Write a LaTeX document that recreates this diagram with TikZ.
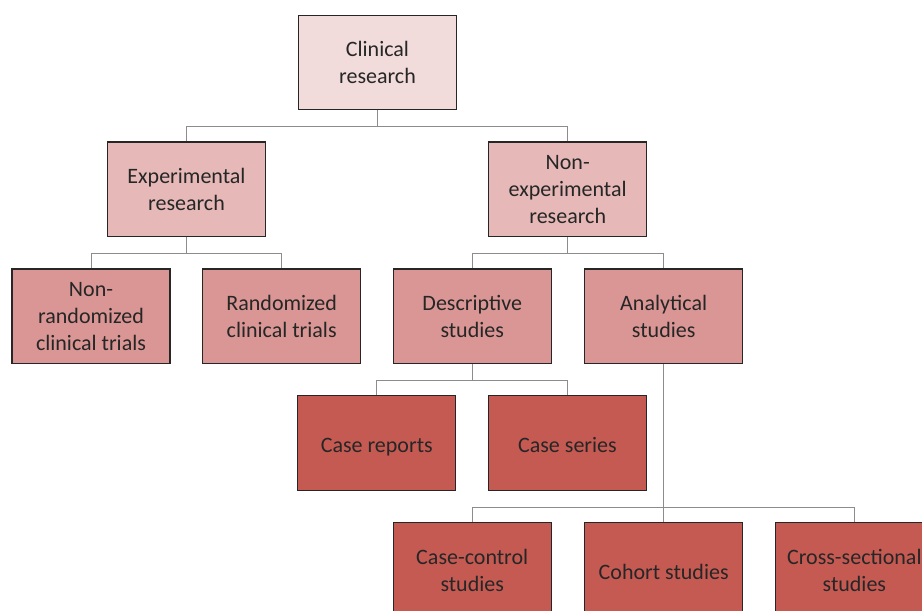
\documentclass[tikz,border=0pt]{standalone}
\usepackage{fontspec}
\setmainfont{Carlito}
\definecolor{lvlone}{HTML}{F2DCDB}
\definecolor{lvltwo}{HTML}{E6B9B8}
\definecolor{lvlthree}{HTML}{D99694}
\definecolor{lvlfour}{HTML}{C55A53}
\definecolor{boxtext}{HTML}{262626}
\usetikzlibrary{positioning}
\tikzset{
	box/.style = {draw = black!85, line width = 0.9pt, minimum width = 118.5pt, minimum height = 71pt, align = center, text = boxtext, font = \fontsize{16.5}{20.25}\selectfont, execute at begin node = \strut, text depth = 0pt},
	link/.style = {draw = black!45, line width = 0.6pt}
}

\begin{document}
\begin{tikzpicture}
		\useasboundingbox (-283.125pt,46.875pt) rectangle (408.375pt,-411.375pt);
		\clip (-283.125pt,46.875pt) rectangle (408.375pt,-411.375pt);
		% top level
		\node[box, fill = lvlone] (cr){Clinical\\research};
		% second level
		\node[box, fill = lvltwo, below = 23.25pt of cr, xshift = -143.25pt] (er){Experimental\\research};
		\node[box, fill = lvltwo, right = 166.5pt of er] (ner){Non-\\experimental\\research};
		% third level
		\node[box, fill = lvlthree, below = 23.25pt of er, xshift = -71.6pt] (nrct){Non-\\randomized\\clinical trials};
		\node[box, fill = lvlthree, right = 23.6pt of nrct] (rct){Randomized\\clinical trials};
		\node[box, fill = lvlthree, below = 23.25pt of ner, xshift = -71.6pt] (ds){Descriptive\\studies};
		\node[box, fill = lvlthree, right = 24.2pt of ds] (as){Analytical\\studies};
		% fourth level
		\node[box, fill = lvlfour, below = 23.25pt of ds, xshift = -71.6pt] (crp){Case reports};
		\node[box, fill = lvlfour, right = 23.6pt of crp] (cser){Case series};
		\node[box, fill = lvlfour, below = 118.5pt of ds] (cc){Case-control\\studies};
		\node[box, fill = lvlfour, right = 24.2pt of cc] (coh){Cohort studies};
		\node[box, fill = lvlfour, right = 23.6pt of coh] (xs){Cross-sectional\\studies};
		% connectors
		\foreach \child/\parent in {er/cr, ner/cr, nrct/er, rct/er, ds/ner, as/ner, crp/ds, cser/ds, cc/as, coh/as, xs/as}
			\draw[link] (\child.north) -- ++(0,11.25pt) -| (\parent.south);
	\end{tikzpicture}
\end{document}
